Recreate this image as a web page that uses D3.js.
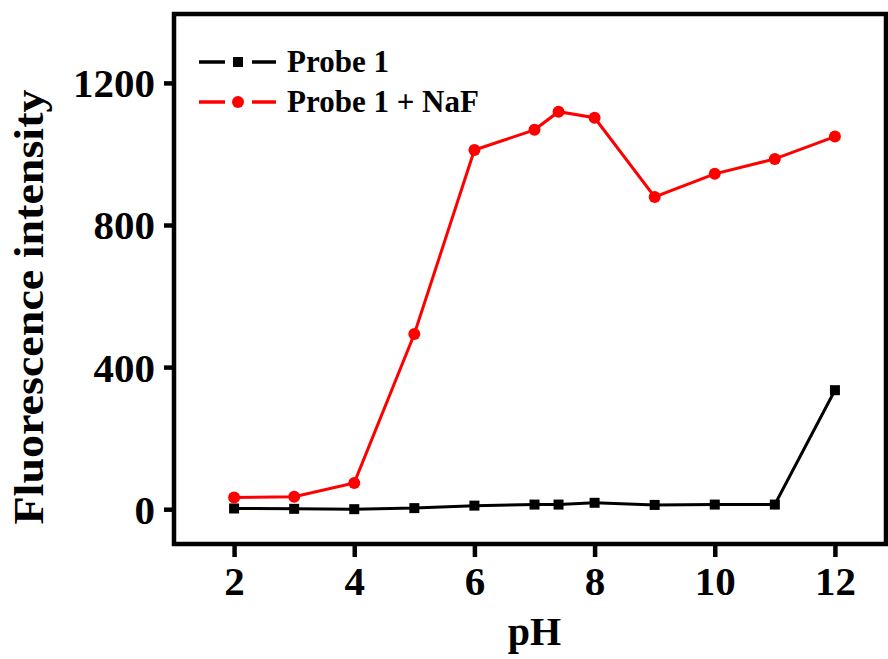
<!DOCTYPE html>
<html>
<head>
<meta charset="utf-8">
<script src="https://cdn.jsdelivr.net/npm/d3@7"></script>
<style>
	body { margin: 0; background: #fff; }
	text { font-family: "Liberation Serif", "Times New Roman", serif; font-weight: bold; }
</style>
</head>
<body>
<script>
// pH values and fluorescence
var phValues = [2, 3, 4, 5, 6, 7, 7.4, 8, 9, 10, 11, 12];
var probe1 = [2, 1, 0, 3, 10, 13, 13, 18, 12, 13, 13, 335];
var probe1NaF = [33, 35, 74, 493, 1011, 1068, 1119, 1102, 879, 944, 986, 1049];
var xTicks = [2, 4, 6, 8, 10, 12];
var yTicks = [0, 400, 800, 1200];
var legendNames = ["Probe 1", "Probe 1 + NaF"];

var width = 888, height = 659;
var margin = {top: 14, right: 2, bottom: 115, left: 174};

var svg = d3.select("body").append("svg")
	.attr("width", width)
	.attr("height", height);

var x = d3.scaleLinear()
	.domain([1, 12.85])
	.range([margin.left, width - margin.right]);
var y = d3.scaleLinear()
	.domain([-98, 1394])
	.range([height - margin.bottom, margin.top]);

// x axis ticks + labels
var xAxis = svg.append("g")
	.attr("transform", "translate(0," + (height - margin.bottom) + ")")
	.call(d3.axisBottom(x).tickValues(xTicks).tickSize(13).tickFormat(d3.format("d")));
xAxis.select(".domain").remove();
xAxis.selectAll("line").attr("stroke", "#000").attr("stroke-width", 4.5);
xAxis.selectAll("text")
	.attr("font-size", 41)
	.attr("fill", "#000")
	.attr("y", 51)
	.attr("dy", null);

// y axis
var yAxis = svg.append("g")
	.attr("transform", "translate(" + margin.left + ",0)")
	.call(d3.axisLeft(y).tickValues(yTicks).tickSize(10).tickPadding(9).tickFormat(d3.format("d")));
yAxis.select(".domain").remove();
yAxis.selectAll("line").attr("stroke", "#000").attr("stroke-width", 4.5);
yAxis.selectAll("text").attr("font-size", 41).attr("fill", "#000").attr("dy", "0.34em");

// frame
svg.append("rect")
	.attr("x", margin.left)
	.attr("y", margin.top)
	.attr("width", width - margin.left - margin.right)
	.attr("height", height - margin.top - margin.bottom)
	.attr("fill", "none")
	.attr("stroke", "#000")
	.attr("stroke-width", 4.5);

// axis titles
svg.append("text")
	.attr("x", x(7))
	.attr("y", 645)
	.attr("text-anchor", "middle")
	.attr("font-size", 40)
	.text("pH");
svg.append("text")
	.attr("transform", "translate(43,307) rotate(-90)")
	.attr("text-anchor", "middle")
	.attr("font-size", 42)
	.attr("textLength", 435)
	.attr("lengthAdjust", "spacingAndGlyphs")
	.text("Fluorescence intensity");

var line = d3.line()
	.x(function(d) { return x(d[0]); })
	.y(function(d) { return y(d[1]); });

var series = [
	{name: legendNames[0], color: "#000", shape: "square", values: d3.zip(phValues, probe1)},
	{name: legendNames[1], color: "#f00", shape: "circle", values: d3.zip(phValues, probe1NaF)}
];

function marker(g, s, cx, cy) {
	if (s.shape == "square")
		g.append("rect")
			.attr("x", cx - 5)
			.attr("y", cy - 5)
			.attr("width", 10)
			.attr("height", 10)
			.attr("fill", s.color);
	else
		g.append("circle")
			.attr("cx", cx)
			.attr("cy", cy)
			.attr("r", 6)
			.attr("fill", s.color);
}

series.forEach(function(s) {
	var g = svg.append("g");
	g.append("path")
		.attr("d", line(s.values))
		.attr("fill", "none")
		.attr("stroke", s.color)
		.attr("stroke-width", 3);
	s.values.forEach(function(d) {
		marker(g, s, x(d[0]), y(d[1]));
	});
});

// legend
series.forEach(function(s, i) {
	var ly = 62 + i * 40;
	var g = svg.append("g");
	g.append("line")
		.attr("x1", 199).attr("x2", 225)
		.attr("y1", ly).attr("y2", ly)
		.attr("stroke", s.color)
		.attr("stroke-width", 3.5);
	g.append("line")
		.attr("x1", 252).attr("x2", 276)
		.attr("y1", ly).attr("y2", ly)
		.attr("stroke", s.color)
		.attr("stroke-width", 3.5);
	marker(g, s, 238, ly);
	g.append("text")
		.attr("x", 287)
		.attr("y", ly + 10)
		.attr("font-size", 31)
		.text(s.name);
});
</script>
</body>
</html>
